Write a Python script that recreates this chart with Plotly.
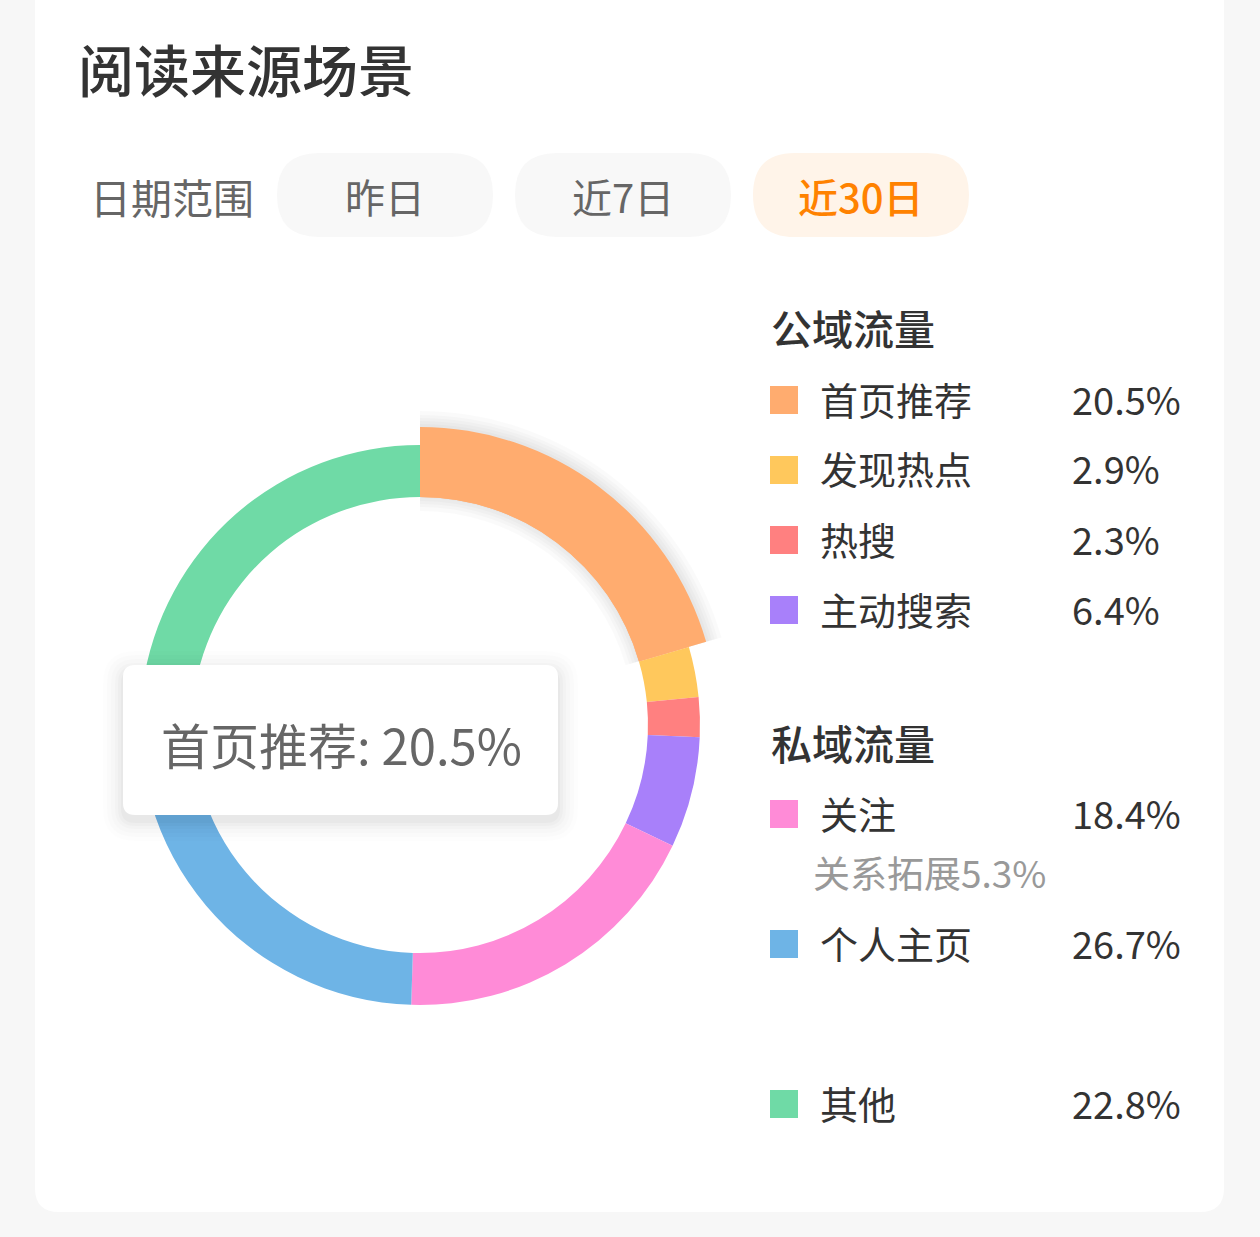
import plotly.graph_objects as go

W, H = 1260, 1237

# ---- data ----
categories = ["首页推荐", "发现热点", "热搜", "主动搜索", "关注", "个人主页", "其他"]
values = [20.5, 2.9, 2.3, 6.4, 18.4, 26.7, 22.8]
colors = ["#FFAC6F", "#FFC85C", "#FF8080", "#A880FA", "#FF8BD7", "#6EB4E6", "#6FDAA6"]
public_items = ["首页推荐", "发现热点", "热搜", "主动搜索"]
private_items = ["关注", "个人主页"]
other_items = ["其他"]
sub_note = "关系拓展5.3%"
date_buttons = ["昨日", "近7日", "近30日"]
active_button = "近30日"
highlight = "首页推荐"

FONT = "Noto Sans CJK SC"


def px(x):
    return x / W


def py(y):
    return 1 - y / H


def rounded_path(x0, y0, x1, y1, r):
    X0, X1 = px(x0), px(x1)
    Y0, Y1 = py(y0), py(y1)
    rx, ry = r / W, r / H
    return (f"M {X0+rx},{Y0} L {X1-rx},{Y0} Q {X1},{Y0} {X1},{Y0-ry} "
            f"L {X1},{Y1+ry} Q {X1},{Y1} {X1-rx},{Y1} L {X0+rx},{Y1} "
            f"Q {X0},{Y1} {X0},{Y1+ry} L {X0},{Y0-ry} Q {X0},{Y0} {X0+rx},{Y0} Z")


fig = go.Figure()

cx, cy = 420, 725
R_out, R_in = 280, 228
R_hi = 298


def pie_domain(r):
    return dict(x=[px(cx - r), px(cx + r)], y=[py(cy + r), py(cy - r)])


hi_idx = categories.index(highlight)

# shadow layers for highlighted slice
for d in [16, 12, 9, 6, 3]:
    r = R_hi + d
    inner = R_in - d + 2
    cols = ["rgba(0,0,0,0.02)" if i == hi_idx else "rgba(0,0,0,0)" for i in range(len(values))]
    fig.add_trace(go.Pie(values=values, labels=categories, sort=False, direction="clockwise",
                         rotation=0, hole=inner / r, domain=pie_domain(r),
                         marker=dict(colors=cols, line=dict(width=0)),
                         textinfo="none", hoverinfo="skip", showlegend=False))

# main donut
fig.add_trace(go.Pie(values=values, labels=categories, sort=False, direction="clockwise",
                     rotation=0, hole=R_in / R_out, domain=pie_domain(R_out),
                     marker=dict(colors=colors, line=dict(width=0)),
                     textinfo="none", hoverinfo="skip", showlegend=False))

# enlarged highlighted slice
hcols = [colors[i] if i == hi_idx else "rgba(0,0,0,0)" for i in range(len(values))]
fig.add_trace(go.Pie(values=values, labels=categories, sort=False, direction="clockwise",
                     rotation=0, hole=R_in / R_hi, domain=pie_domain(R_hi),
                     marker=dict(colors=hcols, line=dict(width=0)),
                     textinfo="none", hoverinfo="skip", showlegend=False))

shapes = []
annotations = []

# card background
shapes.append(dict(type="path", path=rounded_path(35, -40, 1224, 1212, 24), xref="paper", yref="paper",
                   fillcolor="#FFFFFF", line=dict(width=0), layer="below"))

# title
annotations.append(dict(text="阅读来源场景", x=px(76), y=py(68), xanchor="left", yanchor="middle",
                        font=dict(family=FONT, size=56, color="#333333", weight=500), showarrow=False))

# date range
annotations.append(dict(text="日期范围", x=px(88), y=py(196), xanchor="left", yanchor="middle",
                        font=dict(family=FONT, size=41, color="#666666"), showarrow=False))
bx = [277, 515, 753]
for b, x0 in zip(date_buttons, bx):
    active = b == active_button
    shapes.append(dict(type="path", path=rounded_path(x0, 153, x0 + 216, 237, 42), xref="paper", yref="paper",
                       fillcolor="#FFF4E9" if active else "#F8F8F8", line=dict(width=0), layer="below"))
    annotations.append(dict(text=b, x=px(x0 + 108), y=py(196), xanchor="center", yanchor="middle",
                            font=dict(family=FONT, size=40, color="#FF8200" if active else "#666666",
                                      weight=500 if active else 400),
                            showarrow=False))

# legend
val_map = dict(zip(categories, values))
col_map = dict(zip(categories, colors))


def legend_row(name, yc):
    shapes.append(dict(type="rect", x0=px(770), x1=px(798), y0=py(yc + 14), y1=py(yc - 14),
                       xref="paper", yref="paper", fillcolor=col_map[name], line=dict(width=0)))
    annotations.append(dict(text=name, x=px(818), y=py(yc - 2), xanchor="left", yanchor="middle",
                            font=dict(family=FONT, size=38, color="#333333"), showarrow=False))
    annotations.append(dict(text=f"{val_map[name]}%", x=px(1070), y=py(yc - 2), xanchor="left", yanchor="middle",
                            font=dict(family=FONT, size=38, color="#333333"), showarrow=False))


annotations.append(dict(text="公域流量", x=px(769), y=py(327), xanchor="left", yanchor="middle",
                        font=dict(family=FONT, size=41, color="#333333", weight=500), showarrow=False))
for name, yc in zip(public_items, [400, 470, 540, 610]):
    legend_row(name, yc)

annotations.append(dict(text="私域流量", x=px(769), y=py(742), xanchor="left", yanchor="middle",
                        font=dict(family=FONT, size=41, color="#333333", weight=500), showarrow=False))
for name, yc in zip(private_items, [814, 944]):
    legend_row(name, yc)
annotations.append(dict(text=sub_note, x=px(811), y=py(872), xanchor="left", yanchor="middle",
                        font=dict(family=FONT, size=37, color="#999999"), showarrow=False))
for name, yc in zip(other_items, [1104]):
    legend_row(name, yc)

# tooltip with shadow
tx0, ty0, tx1, ty1 = 123, 665, 558, 815
for d, a in [(20, 0.008), (16, 0.01), (12, 0.012), (8, 0.015), (5, 0.018), (2, 0.022)]:
    shapes.append(dict(type="path", path=rounded_path(tx0 - d, ty0 - d + 6, tx1 + d, ty1 + d + 6, 12 + d),
                       xref="paper", yref="paper", fillcolor=f"rgba(0,0,0,{a})", line=dict(width=0),
                       layer="above"))
shapes.append(dict(type="path", path=rounded_path(tx0, ty0, tx1, ty1, 12), xref="paper", yref="paper",
                   fillcolor="#FFFFFF", line=dict(width=0), layer="above"))
annotations.append(dict(text=f"{highlight}: {val_map[highlight]}%", x=px(341), y=py(743),
                        xanchor="center", yanchor="middle",
                        font=dict(family=FONT, size=49, color="#666666"), showarrow=False))

fig.update_layout(width=W, height=H, margin=dict(l=0, r=0, t=0, b=0),
                  paper_bgcolor="#F7F7F7", plot_bgcolor="#F7F7F7",
                  shapes=shapes, annotations=annotations, showlegend=False,
                  font=dict(family=FONT))

fig.write_html("out.html", config={"displayModeBar": False},
               post_script="document.body.style.margin='0';document.body.style.background='#F7F7F7';")
